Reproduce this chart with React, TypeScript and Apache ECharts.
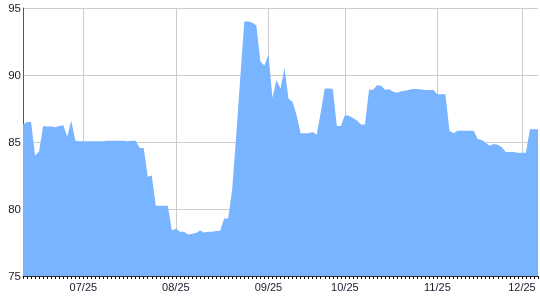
import React, { useEffect, useRef } from "react";
import * as echarts from "echarts";

const monthLabels = ["07/25", "08/25", "09/25", "10/25", "11/25", "12/25"];
const monthStartIndex = [15, 38, 61, 80, 103, 124];
const yTicks = [75, 80, 85, 90, 95];

const values = [
  86.3, 86.5, 86.5, 84.0, 84.3, 86.2, 86.15, 86.15, 86.1, 86.2,
  86.25, 85.4, 86.6, 85.1, 85.05, 85.05, 85.05, 85.05, 85.05, 85.05,
  85.05, 85.1, 85.1, 85.1, 85.1, 85.1, 85.05, 85.1, 85.1, 84.55,
  84.55, 82.4, 82.5, 80.25, 80.25, 80.25, 80.25, 78.4, 78.55, 78.3,
  78.3, 78.1, 78.15, 78.2, 78.4, 78.25, 78.3, 78.3, 78.35, 78.38,
  79.3, 79.3, 81.5, 85.5, 89.8, 94.0, 94.0, 93.9, 93.7, 91.0,
  90.7, 91.55, 88.3, 89.6, 89.0, 90.5, 88.2, 88.0, 87.0, 85.65,
  85.65, 85.65, 85.75, 85.55, 87.2, 89.0, 89.0, 88.95, 86.2, 86.2,
  87.0, 86.95, 86.8, 86.6, 86.3, 86.3, 88.9, 88.9, 89.23, 89.2,
  88.9, 88.94, 88.75, 88.68, 88.78, 88.83, 88.9, 88.96, 88.95, 88.92,
  88.88, 88.88, 88.88, 88.56, 88.56, 88.56, 85.84, 85.65, 85.84, 85.84,
  85.84, 85.84, 85.84, 85.22, 85.15, 84.95, 84.72, 84.85, 84.8, 84.6,
  84.25, 84.25, 84.25, 84.2, 84.2, 84.2, 85.95, 85.95, 85.95,
];

const categories = values.map((_, i) => {
  const k = monthStartIndex.indexOf(i);
  return k >= 0 ? monthLabels[k] : "p" + i;
});

const isMonth = (i: number) => monthStartIndex.includes(i);

export default function App() {
  const ref = useRef<HTMLDivElement>(null);
  useEffect(() => {
    if (!ref.current) return;
    const chart = echarts.init(ref.current, undefined, { renderer: "svg" });
    chart.setOption({
      animation: false,
      grid: { left: 23, right: 2, top: 8, bottom: 24, containLabel: false },
      xAxis: {
        type: "category",
        data: categories,
        boundaryGap: false,
        axisLine: { show: true, lineStyle: { color: "#333", width: 1 } },
        axisTick: {
          show: true,
          interval: 0,
          length: 3,
          lineStyle: { color: "#111", width: 1 },
        },
        axisLabel: {
          interval: (i: number) => isMonth(i),
          color: "#1a1a2e",
          fontFamily: "Liberation Sans, Arial, sans-serif",
          fontSize: 11,
          margin: 5,
        },
        splitLine: {
          show: true,
          interval: (i: number) => isMonth(i),
          lineStyle: { color: "#cccccc", width: 1 },
        },
      },
      yAxis: {
        type: "value",
        min: yTicks[0],
        max: yTicks[yTicks.length - 1],
        interval: 5,
        axisLine: { show: true, lineStyle: { color: "#555", width: 1 } },
        axisTick: { show: false },
        axisLabel: {
          color: "#1a1a2e",
          fontFamily: "Liberation Sans, Arial, sans-serif",
          fontSize: 11.5,
          margin: 2,
        },
        splitLine: { show: true, lineStyle: { color: "#cccccc", width: 1 } },
      },
      series: [
        {
          type: "line",
          data: values,
          symbol: "none",
          lineStyle: { width: 0, color: "#78b4ff" },
          itemStyle: { color: "#78b4ff" },
          areaStyle: { color: "#78b4ff", opacity: 1, origin: "start" },
        },
      ],
    });
    return () => chart.dispose();
  }, []);
  return (
    <div
      ref={ref}
      style={{ position: "fixed", left: 0, top: 0, width: 540, height: 300 }}
    />
  );
}
